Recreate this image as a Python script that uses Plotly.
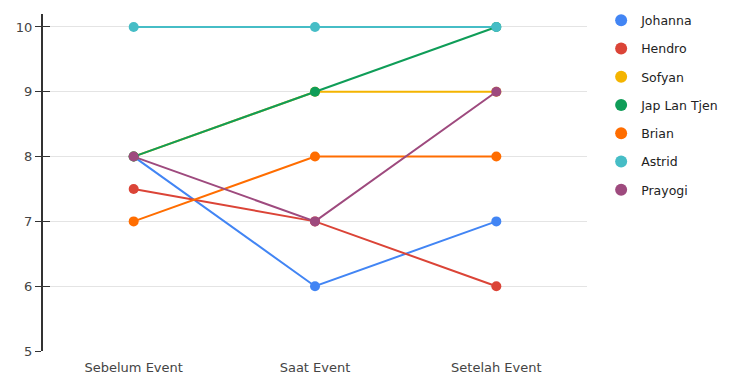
import plotly.graph_objects as go

categories = ["Sebelum Event", "Saat Event", "Setelah Event"]
names = ["Johanna", "Hendro", "Sofyan", "Jap Lan Tjen", "Brian", "Astrid", "Prayogi"]
johanna = [8, 6, 7]
hendro = [7.5, 7, 6]
sofyan = [8, 9, 9]
jap = [8, 9, 10]
brian = [7, 8, 8]
astrid = [10, 10, 10]
prayogi = [8, 7, 9]
series = [johanna, hendro, sofyan, jap, brian, astrid, prayogi]
colors = ["#4285F4", "#DB4437", "#F4B400", "#0F9D58", "#FF6D00", "#46BDC6", "#9E4A7E"]
yticks = [5, 6, 7, 8, 9, 10]

fig = go.Figure()
for name, vals, c in zip(names, series, colors):
    fig.add_trace(go.Scatter(x=categories, y=vals, mode="lines+markers", name=name,
                             line=dict(color=c, width=2), marker=dict(color=c, size=10),
                             showlegend=False, cliponaxis=False))
for i, (name, c) in enumerate(zip(names, colors)):
    fig.add_trace(go.Scatter(x=[None], y=[None], mode="markers", name=name,
                             marker=dict(color=c, size=12), legendgroup="g%d" % i,
                             showlegend=True))
# invisible trace to carry the second (inside-tick) y axis
fig.add_trace(go.Scatter(x=[None], y=[None], yaxis="y2", showlegend=False, hoverinfo="skip"))

fig.update_layout(
    width=729, height=374,
    margin=dict(l=43, r=142, t=14, b=23, autoexpand=False),
    plot_bgcolor="white", paper_bgcolor="white",
    font=dict(family="DejaVu Sans, Verdana, sans-serif", size=13, color="#444"),
    legend=dict(x=1.026, y=1.025, xanchor="left", yanchor="top",
                font=dict(size=12.5, color="#222"), tracegroupgap=9,
                itemwidth=30, bgcolor="rgba(0,0,0,0)", maxheight=370),
    xaxis=dict(type="category", range=[-0.5, 2.5], showgrid=False, showline=False,
               zeroline=False, ticks="outside", ticklen=4, tickcolor="rgba(0,0,0,0)",
               automargin=False, tickfont=dict(size=13, color="#444")),
    yaxis=dict(range=[5, 10.2], tickvals=yticks, showgrid=True, gridcolor="#e4e4e4",
               gridwidth=1, showline=True, linecolor="#333", linewidth=2,
               ticks="outside", ticklen=6, tickcolor="#333", tickwidth=1,
               automargin=False, zeroline=False, tickfont=dict(size=13, color="#444")),
    yaxis2=dict(range=[5, 10.2], tickvals=yticks, overlaying="y", side="left",
                showgrid=False, showline=False, ticks="inside", ticklen=7,
                tickcolor="#333", tickwidth=1, showticklabels=False,
                zeroline=False, automargin=False),
)
fig.write_html("out.html")
